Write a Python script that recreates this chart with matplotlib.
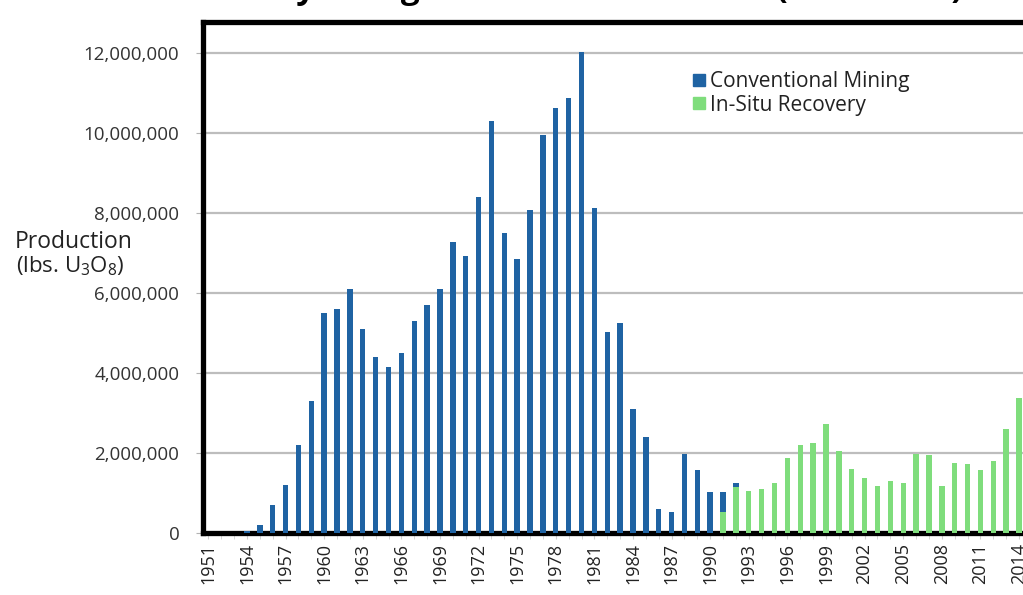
import matplotlib
matplotlib.use("Agg")
import matplotlib.pyplot as plt
from matplotlib.ticker import FuncFormatter, MultipleLocator
from matplotlib.patches import Patch

plt.rcParams["font.family"] = ["Open Sans", "DejaVu Sans"]
plt.rcParams["mathtext.fontset"] = "custom"
plt.rcParams["mathtext.rm"] = "Open Sans"

# Wyoming uranium production, lbs U3O8
years = list(range(1951, 2015))
conventional = [
    0, 0, 0, 0.05e6, 0.2e6, 0.7e6, 1.2e6, 2.2e6, 3.3e6,           # 1951-1959
    5.5e6, 5.6e6, 6.1e6, 5.1e6, 4.4e6, 4.15e6, 4.5e6, 5.3e6, 5.7e6, 6.1e6,  # 1960s
    7.28e6, 6.94e6, 8.4e6, 10.31e6, 7.51e6, 6.86e6, 8.07e6, 9.95e6, 10.62e6, 10.87e6,  # 1970s
    12.04e6, 8.14e6, 5.02e6, 5.25e6, 3.1e6, 2.39e6, 0.6e6, 0.53e6, 1.97e6, 1.57e6,  # 1980s
    1.02e6, 0.51e6, 0.10e6, 0, 0, 0, 0, 0, 0, 0,                   # 1990s
    0, 0, 0, 0, 0, 0, 0, 0, 0, 0,                                  # 2000s
    0, 0, 0, 0, 0,                                                 # 2010-2014
]
in_situ = [
    0, 0, 0, 0, 0, 0, 0, 0, 0,
    0, 0, 0, 0, 0, 0, 0, 0, 0, 0,
    0, 0, 0, 0, 0, 0, 0, 0, 0, 0,
    0, 0, 0, 0, 0, 0, 0, 0, 0, 0,
    0, 0.52e6, 1.14e6, 1.04e6, 1.1e6, 1.26e6, 1.88e6, 2.19e6, 2.26e6, 2.73e6,
    2.05e6, 1.6e6, 1.37e6, 1.18e6, 1.29e6, 1.24e6, 1.98e6, 1.96e6, 1.18e6, 1.76e6,
    1.72e6, 1.57e6, 1.8e6, 2.59e6, 3.38e6,
]
tick_years = list(range(1951, 2015, 3))

blue = "#1f63a3"
green = "#7fdd7c"

fig = plt.figure(figsize=(10.23, 5.95), dpi=100)
ax = fig.add_axes([0.1984, 0.1042, 0.8016, 0.8588])

ax.bar(years, in_situ, width=0.42, color=green, zorder=3)
ax.bar(years, conventional, width=0.42, bottom=in_situ, color=blue, zorder=3)

ax.set_xlim(1950.58, 2014.31)
ax.set_ylim(0, 12.78e6)
ax.yaxis.set_major_locator(MultipleLocator(2e6))
ax.yaxis.set_major_formatter(FuncFormatter(lambda v, p: f"{int(v):,}"))
ax.yaxis.grid(True, color="#bdbdbd", linewidth=1.6, zorder=0)

ax.set_xticks(tick_years)
ax.set_xticklabels([str(y) for y in tick_years], rotation=90)
ax.xaxis.set_minor_locator(MultipleLocator(1))
ax.tick_params(axis="x", which="both", length=4, color="#d0d0d0", labelsize=13,
               labelcolor="#222222", pad=3)
ax.tick_params(axis="y", length=5, color="#b3b3b3", labelsize=13.5,
               labelcolor="#333333", pad=12)

for side in ["top", "left", "bottom"]:
    ax.spines[side].set_linewidth(3.8)
    ax.spines[side].set_color("black")
ax.spines["right"].set_visible(False)

fig.text(0.014, 0.594, "Production", fontsize=16.5, color="#222222",
         ha="left", va="center")
fig.text(0.016, 0.553, r"(lbs. U$_\mathrm{3}$O$_\mathrm{8}$)", fontsize=16,
         color="#222222", ha="left", va="center")

handles = [Patch(color=blue, label="Conventional Mining"),
           Patch(color=green, label="In-Situ Recovery")]
ax.legend(handles=handles, loc="upper left", bbox_to_anchor=(0.575, 0.94),
          frameon=False, fontsize=15, handlelength=0.55, handleheight=0.55,
          handletextpad=0.25, labelspacing=0.1, labelcolor="#222222")

# title sits mostly above the top edge, as in the cropped original
fig.text(0.6, 1.004, "Wyoming Uranium Production (1951-2014)", fontsize=24,
         fontweight="bold", ha="center", va="baseline")

fig.savefig("out.png", dpi=100)
